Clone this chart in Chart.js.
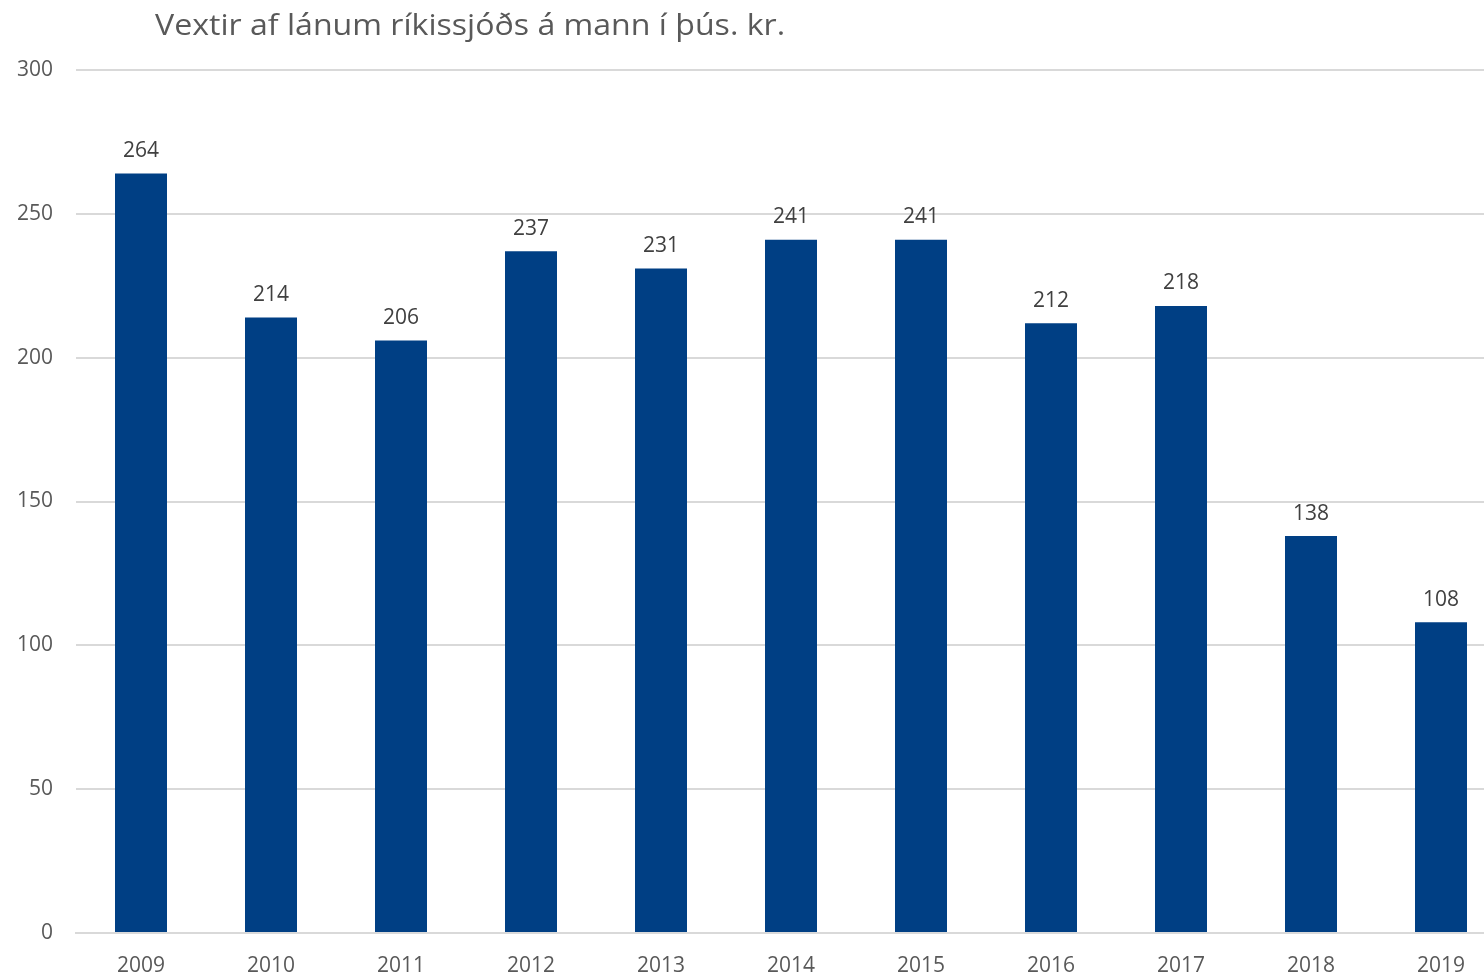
<!DOCTYPE html>
<html lang="is">
<head>
<meta charset="utf-8">
<title>Vextir af lánum ríkissjóðs á mann</title>
<script src="https://cdn.jsdelivr.net/npm/chart.js@4/dist/chart.umd.min.js"></script>
<style>
  html, body { margin: 0; padding: 0; background: #fff; overflow: hidden; }
  body { width: 1484px; height: 977px; position: relative; }
  #wrap { position: absolute; left: 0; top: 0; width: 1510px; height: 977px; }
  #title {
    position: absolute; left: 155px; top: 3px;
    font-family: "Open Sans", sans-serif; font-size: 30px; color: #595959;
    white-space: nowrap; transform-origin: left top; transform: scaleX(1.07);
  }
</style>
</head>
<body>
<div id="wrap"><canvas id="c"></canvas></div>
<div id="title">Vextir af lánum ríkissjóðs á mann í þús. kr.</div>
<script>
// Ár og vextir á mann (þús. kr.)
const years = ['2009', '2010', '2011', '2012', '2013', '2014', '2015', '2016', '2017', '2018', '2019'];
const interestPerPerson = [264, 214, 206, 237, 231, 241, 241, 212, 218, 138, 108];
const yTicks = [0, 50, 100, 150, 200, 250, 300];

const barColor = '#003F84';
const textColor = '#595959';
const gridColor = '#D9D9D9';
const fontFamily = '"Open Sans", sans-serif';

// Gildi ofan á hverri súlu
const valueLabels = {
  id: 'valueLabels',
  afterDatasetsDraw(chart) {
    const ctx = chart.ctx;
    const meta = chart.getDatasetMeta(0);
    ctx.save();
    ctx.font = '21px ' + fontFamily;
    ctx.fillStyle = '#404040';
    ctx.textAlign = 'center';
    ctx.textBaseline = 'bottom';
    meta.data.forEach((bar, i) => {
      ctx.fillText(String(chart.data.datasets[0].data[i]), bar.x, bar.y - 12);
    });
    ctx.restore();
  }
};

new Chart(document.getElementById('c'), {
  type: 'bar',
  data: {
    labels: years,
    datasets: [{
      data: interestPerPerson,
      backgroundColor: barColor,
      borderWidth: 0,
      barPercentage: 0.4,
      categoryPercentage: 1.0
    }]
  },
  options: {
    responsive: true,
    maintainAspectRatio: false,
    animation: false,
    layout: { padding: { top: 70, right: 4, left: 0, bottom: 0 } },
    plugins: {
      legend: { display: false },
      tooltip: { enabled: false },
      title: { display: false }
    },
    scales: {
      x: {
        afterFit(scale) { scale.height = 44; },
        grid: { display: false, drawTicks: false },
        border: { display: true, color: gridColor, width: 2 },
        ticks: { color: textColor, font: { family: fontFamily, size: 21 }, padding: 20, maxRotation: 0 }
      },
      y: {
        min: 0, max: 300,
        afterBuildTicks(scale) { scale.ticks = yTicks.map(v => ({ value: v })); },
        afterFit(scale) { scale.width = 76; },
        grid: { color: gridColor, lineWidth: 2, drawTicks: false },
        border: { display: false },
        ticks: { color: textColor, font: { family: fontFamily, size: 21 }, padding: 23 }
      }
    }
  },
  plugins: [valueLabels]
});
</script>
</body>
</html>
